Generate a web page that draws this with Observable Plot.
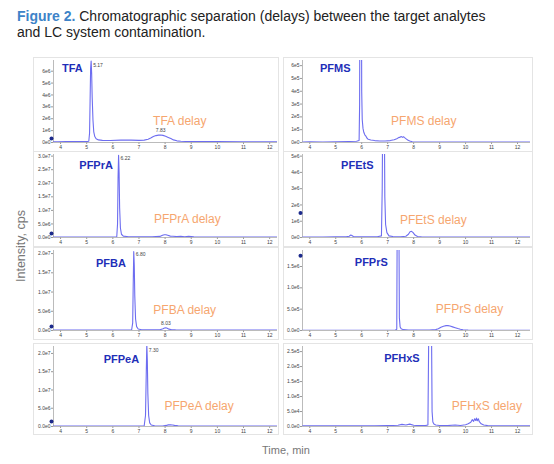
<!DOCTYPE html>
<html><head><meta charset="utf-8">
<script src="https://cdn.jsdelivr.net/npm/d3@7"></script>
<script src="https://cdn.jsdelivr.net/npm/@observablehq/plot@0.6"></script>
<style>
body{margin:0;background:#fff;}
#wrap{position:relative;width:554px;height:464px;font-family:"Liberation Sans",Arial,sans-serif;overflow:hidden;}
#title{position:absolute;left:17px;top:8px;font-size:14px;line-height:16px;color:#222;white-space:nowrap;}
#title b{color:#3d83c8;font-weight:bold;}
.panel{position:absolute;}
.panel svg{outline:1px solid #e4e4e4;outline-offset:-1px;}
#ylab{position:absolute;left:21px;top:246px;transform:translate(-50%,-50%) rotate(-90deg);font-size:12.5px;color:#777;white-space:nowrap;}
#xlab{position:absolute;left:286px;top:450px;transform:translate(-50%,-50%);font-size:11px;color:#777;white-space:nowrap;}
</style></head>
<body>
<div id="wrap">
  <div id="title"><b>Figure 2.</b> Chromatographic separation (delays) between the target analytes<br>and LC system contamination.</div>
  <div id="ylab">Intensity, cps</div>
  <div id="xlab">Time, min</div>
</div>
<script>
// ---------- data (time in min, intensity in the unit given) ----------
const analytes = ["TFA","PFMS","PFPrA","PFEtS","PFBA","PFPrS","PFPeA","PFHxS"];
const xTicks = [4,5,6,7,8,9,10,11,12];

// TFA (x1e6 cps)
const tfaTime = [3.73,3.9,4.2,4.5,4.8,5.0,5.08,5.11,5.13,5.15,5.17,5.19,5.21,5.24,5.27,5.31,5.36,5.45,5.6,5.9,6.3,6.7,7.0,7.2,7.35,7.45,7.55,7.65,7.75,7.83,7.92,8.02,8.12,8.22,8.32,8.45,8.6,8.9,9.5,10,11,12,12.3];
const tfaInt  = [0.05,0.06,0.07,0.07,0.08,0.08,0.1,0.8,3.5,6.2,6.85,5.8,3.8,1.9,0.9,0.5,0.32,0.22,0.18,0.17,0.2,0.2,0.18,0.2,0.28,0.38,0.5,0.58,0.62,0.63,0.6,0.53,0.43,0.33,0.22,0.14,0.1,0.08,0.07,0.07,0.06,0.06,0.06];
// PFMS (x1e5 cps)
const pfmsTime = [3.73,4.0,4.5,5.0,5.5,5.8,5.9,5.92,5.93,5.99,6.0,6.02,6.05,6.08,6.12,6.16,6.2,6.25,6.35,6.5,6.7,6.9,7.1,7.25,7.35,7.42,7.48,7.53,7.57,7.61,7.65,7.7,7.77,7.85,7.95,8.1,8.5,9,10,11,12,12.5];
const pfmsInt  = [0.04,0.05,0.04,0.06,0.08,0.1,0.15,3,12,12,4,1.8,1.1,0.8,0.6,0.5,0.35,0.25,0.2,0.15,0.12,0.12,0.15,0.22,0.3,0.38,0.42,0.46,0.4,0.45,0.38,0.3,0.2,0.12,0.06,0.04,0.04,0.03,0.03,0.03,0.03,0.03];
// PFPrA (x1e6 cps)
const pfpraTime = [3.73,4,4.5,5,5.5,6.0,6.15,6.18,6.2,6.22,6.24,6.26,6.29,6.33,6.4,6.6,7,7.5,7.8,7.9,7.97,8.03,8.1,8.2,8.3,8.45,8.6,8.75,8.9,9.1,9.5,10,11,12,12.3];
const pfpraInt  = [0.15,0.15,0.15,0.15,0.15,0.2,0.3,5,22,30.3,24,11,3.5,1.2,0.5,0.3,0.25,0.25,0.4,0.8,1.0,1.0,0.8,0.5,0.45,0.35,0.45,0.3,0.4,0.25,0.2,0.15,0.15,0.15,0.15];
// PFEtS (x1e6 cps)
const pfetsTime = [3.73,4,4.5,5,5.4,5.52,5.58,5.62,5.68,5.8,6.2,6.6,6.76,6.79,6.81,6.87,6.89,6.92,6.97,7.05,7.2,7.5,7.7,7.8,7.86,7.92,7.98,8.05,8.15,8.3,8.6,9,10,11,12,12.5];
const pfetsInt  = [0.03,0.03,0.03,0.04,0.04,0.08,0.15,0.12,0.06,0.04,0.04,0.05,0.1,3,8,8,2.5,0.8,0.3,0.1,0.06,0.05,0.08,0.2,0.35,0.38,0.3,0.15,0.06,0.04,0.03,0.03,0.03,0.03,0.03,0.03];
// PFBA (x1e6 cps)
const pfbaTime = [3.73,4,5,6,6.5,6.72,6.76,6.78,6.8,6.82,6.84,6.87,6.91,6.97,7.1,7.4,7.8,7.92,7.98,8.03,8.08,8.15,8.25,8.4,8.6,9,10,11,12,12.3];
const pfbaInt  = [0.1,0.1,0.1,0.1,0.12,0.2,2,12,20.5,17,9,3,1,0.4,0.2,0.15,0.2,0.45,0.65,0.7,0.6,0.35,0.2,0.15,0.12,0.1,0.1,0.1,0.1,0.1];
// PFPrS (x1e5 cps)
const pfprsTime = [3.73,4,5,6,7,7.3,7.35,7.37,7.43,7.45,7.48,7.52,7.6,7.8,8.2,8.6,8.85,8.95,9.05,9.15,9.25,9.32,9.4,9.5,9.6,9.7,9.8,9.9,10.1,10.5,11,12,12.5];
const pfprsInt  = [0.05,0.05,0.05,0.05,0.06,0.1,0.3,30,30,3,0.8,0.4,0.2,0.1,0.08,0.1,0.2,0.4,0.75,1.0,1.15,1.15,1.05,0.85,0.65,0.45,0.3,0.18,0.08,0.06,0.05,0.05,0.05];
// PFPeA (x1e6 cps)
const pfpeaTime = [3.73,4,5,6,7,7.2,7.25,7.28,7.3,7.32,7.34,7.37,7.41,7.47,7.6,7.9,8.05,8.12,8.2,8.28,8.36,8.5,8.7,9,10,11,12,12.3];
const pfpeaInt  = [0.1,0.1,0.1,0.1,0.12,0.2,3,15,22.5,18,9,3,1,0.4,0.2,0.15,0.3,0.45,0.5,0.42,0.3,0.18,0.12,0.1,0.1,0.1,0.1,0.1];
// PFHxS (x1e4 cps)
const pfhxsTime = [3.73,4,4.5,5,5.5,6,6.5,7,7.4,7.55,7.7,7.85,8.0,8.2,8.45,8.55,8.58,8.69,8.71,8.74,8.78,8.85,9.0,9.3,9.6,9.8,10.0,10.1,10.2,10.26,10.31,10.35,10.39,10.42,10.45,10.49,10.53,10.6,10.7,10.85,11,11.5,12,12.5];
const pfhxsInt  = [0.2,0.2,0.2,0.25,0.2,0.25,0.25,0.3,0.4,0.7,0.5,0.8,0.4,0.3,0.3,0.5,30,30,5,1.5,0.8,0.5,0.35,0.3,0.5,0.35,0.6,0.9,1.4,2.3,1.7,2.6,2.0,2.8,1.9,2.6,1.6,0.9,0.5,0.3,0.25,0.2,0.2,0.2];

const traceTimes = [tfaTime,pfmsTime,pfpraTime,pfetsTime,pfbaTime,pfprsTime,pfpeaTime,pfhxsTime];
const traceInts  = [tfaInt,pfmsInt,pfpraInt,pfetsInt,pfbaInt,pfprsInt,pfpeaInt,pfhxsInt];
const traceUnits = [1e6,1e5,1e6,1e6,1e6,1e5,1e6,1e4];

// y-axis tick values and label formats
const yTickValues = [
  [0,1e6,2e6,3e6,4e6,5e6,6e6],
  [0,1e5,2e5,3e5,4e5,5e5,6e5],
  [0,5e6,1e7,1.5e7,2e7,2.5e7,3e7],
  [0,1e6,2e6,3e6,4e6,5e6],
  [0,5e6,1e7,1.5e7,2e7],
  [0,5e5,1e6,1.5e6],
  [0,5e6,1e7,1.5e7,2e7],
  [0,5e4,1e5,1.5e5,2e5,2.5e5]
];
const yTickFormats = [".0e",".0e",".1e",".0e",".1e",".1e",".1e",".1e"];
const yMax = [6.9e6,6.4e5,3.06e7,5.1e6,2.08e7,1.875e6,2.19e7,2.67e5];

// analyte label positions (data coords)
const nameTime = [4.45,4.98,5.36,5.83,5.93,6.37,6.33,7.55];
const nameInt  = [6.19e6,5.8e5,2.66e7,4.42e6,1.74e7,1.59e6,1.83e7,2.26e5];
const delayTime = [8.56,8.39,8.85,8.76,8.75,10.15,9.30,10.82];
const delayInt  = [1.76e6,1.69e5,6.64e6,1.04e6,5.27e6,4.93e5,5.48e6,6.8e4];

// retention-time annotations
const rtPanel = [0,0,2,4,4,6];
const rtTime  = [5.17,7.83,6.22,6.80,8.03,7.30];
const rtInt   = [6.47e6,1.0e6,2.92e7,1.97e7,1.9e6,2.08e7];
const rtText  = ["5.17","7.83","6.22","6.80","8.03","7.30"];
const rtAnchor= ["start","middle","start","start","middle","start"];

// small instrument markers
const markPanel = [0,2,4,6,3,5];
const markInt   = [0,0,0,0,1.5e6,1.75e6];
const markDy    = [-4,-4,-4,-5,0,0];

// ---------- layout ----------
const cols = [{left:33,width:246,ml:20,mr:2,dom:[3.73,12.3]},{left:283,width:250,ml:19,mr:3,dom:[3.72,12.5]}];
const rows = [{top:57,ph:82,mb:10},{top:151,ph:83,mb:10},{top:247,ph:80,mb:10},{top:343,ph:80,mb:9}];
const traceColor = "#6d6df0", nameColor = "#1f2fb8", delayColor = "#f6a66f";
const wrap = document.getElementById("wrap");

analytes.forEach((name,i) => {
  const c = cols[i%2], r = rows[Math.floor(i/2)];
  const data = traceTimes[i].map((t,k)=>({t, v: traceInts[i][k]*traceUnits[i]}));
  const fmt = d3.format(yTickFormats[i]);
  const rts = rtPanel.map((p,k)=>p===i?k:-1).filter(k=>k>=0).map(k=>({t:rtTime[k],v:rtInt[k],s:rtText[k],a:rtAnchor[k]}));
  const rtsStart = rts.filter(d=>d.a==="start"), rtsMid = rts.filter(d=>d.a==="middle");
  const marks = markPanel.map((p,k)=>p===i?k:-1).filter(k=>k>=0).map(k=>({v:markInt[k],dy:markDy[k]}));
  const mt = 3;
  const plot = Plot.plot({
    width: c.width, height: mt + r.ph + r.mb,
    marginTop: mt, marginBottom: r.mb, marginLeft: c.ml, marginRight: c.mr,
    style: {fontFamily:"Liberation Sans, Arial, sans-serif", fontSize:"5px", color:"#444", background:"transparent", overflow:"visible"},
    x: {domain: c.dom, label: null},
    y: {domain: [0, yMax[i]], label: null},
    marks: [
      Plot.axisX({ticks: xTicks, tickSize: 2, tickPadding: 1, tickFormat: d=>d, stroke:"#999", fontSize: 5, label: null}),
      Plot.axisY({ticks: yTickValues[i], tickSize: 2, tickPadding: 1, tickFormat: d=>fmt(d).replace("+",""), stroke:"#999", fontSize: 5, label: null}),
      Plot.ruleX([c.dom[0]], {stroke:"#aaa", strokeWidth:0.8}),
      Plot.ruleY([0], {stroke:"#aaa", strokeWidth:0.8}),
      Plot.line(data, {x:"t", y:"v", stroke: traceColor, strokeWidth: 1.1, clip: true}),
      Plot.text([name], {x: nameTime[i], y: nameInt[i], text: d=>d, fill: nameColor, fontWeight: "bold", fontSize: 11, fontFamily:"Liberation Sans, Arial, sans-serif"}),
      Plot.text([name + " delay"], {x: delayTime[i], y: delayInt[i], text: d=>d, fill: delayColor, fontSize: 12, fontFamily:"Liberation Sans, Arial, sans-serif"}),
      Plot.text(rtsStart, {x:"t", y:"v", text:"s", textAnchor:"start", dx: 2, fill:"#444", fontSize: 5}),
      Plot.text(rtsMid, {x:"t", y:"v", text:"s", textAnchor:"middle", fill:"#444", fontSize: 5}),
      ...marks.map(m => Plot.dot([m], {y:"v", frameAnchor:"left", dx:-2, dy:m.dy, r:2, fill:"#1c2a8c", stroke:"none"}))
    ]
  });
  const div = document.createElement("div");
  div.className = "panel";
  div.style.left = c.left + "px";
  div.style.top = r.top + "px";
  div.style.width = c.width + "px";
  div.appendChild(plot);
  wrap.appendChild(div);
});
</script>
</body></html>
